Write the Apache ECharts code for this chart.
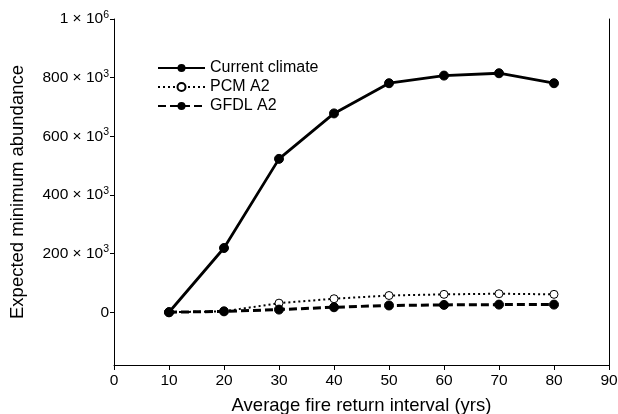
<!DOCTYPE html>
<html><head><meta charset="utf-8">
<script src="https://cdn.jsdelivr.net/npm/echarts@6/dist/echarts.min.js"></script>
<style>html,body{margin:0;padding:0;background:#fff}#c{width:618px;height:414px}</style>
</head><body><div id="c"></div>
<script>
const xValues = [10, 20, 30, 40, 50, 60, 70, 80];
const currentClimate = [0, 219000, 523000, 678000, 781000, 807000, 815000, 781000];
const pcmA2 = [0, 3000, 31000, 46000, 57000, 61000, 63000, 61000];
const gfdlA2 = [0, 3000, 9000, 17000, 23000, 25000, 26000, 26000];
const yTicks = [0, 200000, 400000, 600000, 800000, 1000000];
const xTicks = [0, 10, 20, 30, 40, 50, 60, 70, 80, 90];

const FONT = 'Arial, "Liberation Sans", sans-serif';
const pair = a => xValues.map((x, i) => [x, a[i]]);
function yFmt(v) {
  if (v === 0) return '0';
  if (v === 1000000) return '1 × 10{sup|6}';
  return (v / 1000) + ' × 10{sup|3}';
}
const chart = echarts.init(document.getElementById('c'));
chart.setOption({
  animation: false,
  backgroundColor: '#fff',
  textStyle: { fontFamily: FONT, color: '#000' },
  grid: { left: 114, right: 9, top: 19, bottom: 49, outerBoundsMode: 'none', containLabel: false },
  legend: {
    left: 152, top: 55, orient: 'vertical', itemWidth: 47, itemHeight: 10, itemGap: 3,
    textStyle: { fontFamily: FONT, fontSize: 16, color: '#000' },
    data: ['Current climate', 'PCM A2', 'GFDL A2']
  },
  xAxis: {
    type: 'value', min: 0, max: 90, interval: 10,
    name: 'Average fire return interval (yrs)', nameLocation: 'middle', nameGap: 31,
    nameTextStyle: { fontSize: 18.5, color: '#000', fontFamily: FONT },
    axisLine: { onZero: false, lineStyle: { color: '#000', width: 1 } },
    axisTick: { show: true, length: 5, lineStyle: { color: '#000' }, customValues: xTicks },
    axisLabel: { fontSize: 15.5, color: '#000', margin: 8, fontFamily: FONT, customValues: xTicks },
    splitLine: { show: false }
  },
  yAxis: [{
    type: 'value', min: -180000, max: 1000000,
    name: 'Expected minimum abundance', nameLocation: 'middle', nameGap: 87, nameRotate: 90,
    nameTextStyle: { fontSize: 18.5, color: '#000', fontFamily: FONT },
    axisLine: { show: true, onZero: false, lineStyle: { color: '#000', width: 1 } },
    axisTick: { show: true, length: 4, lineStyle: { color: '#000' }, customValues: yTicks },
    axisLabel: {
      fontSize: 15.5, color: '#000', margin: 5, fontFamily: FONT, customValues: yTicks,
      formatter: yFmt,
      rich: { sup: { fontSize: 10.5, color: '#000', fontFamily: FONT, verticalAlign: 'bottom', padding: [0, 0, 8, 0] } }
    },
    splitLine: { show: false }
  }, {
    type: 'value', min: -180000, max: 1000000, position: 'right',
    axisLine: { show: true, onZero: false, lineStyle: { color: '#000', width: 1 } },
    axisTick: { show: false }, axisLabel: { show: false }, splitLine: { show: false }
  }],
  series: [
    { name: 'Current climate', type: 'line', data: pair(currentClimate), symbol: 'circle', symbolSize: 9,
      lineStyle: { color: '#000', width: 2.8 }, itemStyle: { color: '#000', borderColor: '#000' }, z: 3 },
    { name: 'PCM A2', type: 'line', data: pair(pcmA2), symbol: 'circle', symbolSize: 8,
      lineStyle: { color: '#000', width: 2, type: [2, 3] }, itemStyle: { color: '#fff', borderColor: '#000', borderWidth: 1 }, z: 2 },
    { name: 'GFDL A2', type: 'line', data: pair(gfdlA2), symbol: 'circle', symbolSize: 9,
      lineStyle: { color: '#000', width: 3, type: [8, 4] }, itemStyle: { color: '#000', borderColor: '#000' }, z: 4 }
  ]
});
</script></body></html>
